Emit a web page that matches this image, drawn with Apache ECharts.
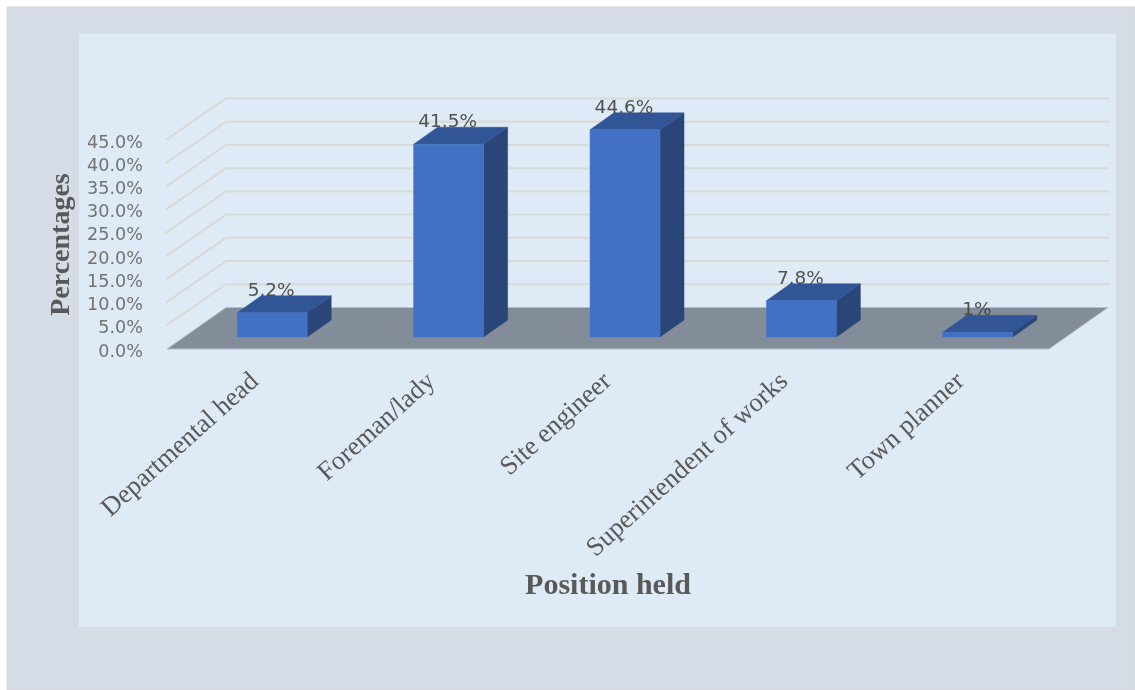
<!DOCTYPE html>
<html>
<head>
<meta charset="utf-8">
<style>html,body{margin:0;padding:0;background:#fff}#chart{width:1135px;height:690px}</style>
<script src="https://cdn.jsdelivr.net/npm/echarts@6/dist/echarts.min.js"></script>
</head>
<body>
<div id="chart"></div>
<script>
const categories = ['Departmental head', 'Foreman/lady', 'Site engineer', 'Superintendent of works', 'Town planner'];
const percentages = [5.2, 41.5, 44.6, 7.8, 1];
const valueLabels = ['5.2%', '41.5%', '44.6%', '7.8%', '1%'];
const gridValues = [5, 10, 15, 20, 25, 30, 35, 40, 45];

// Oblique projection of the floor depth, in pixels
const DEPTH_X = 59, DEPTH_Y = -41.5;
const BAR_INSET_X = 17, BAR_INSET_Y = -12;
const BAR_DEPTH_X = 24, BAR_DEPTH_Y = -17;
const BAR_WIDTH = 70;

const chart = echarts.init(document.getElementById('chart'), null, {renderer: 'canvas'});

function renderWallLine(params, api) {
  const p = api.coord([0, api.value(0)]);
  const cs = params.coordSys;
  const left = cs.x - 1, right = cs.x + cs.width + 1;
  return {
    type: 'polyline',
    shape: {points: [[left, p[1]], [left + DEPTH_X + 1, p[1] + DEPTH_Y], [right + DEPTH_X, p[1] + DEPTH_Y]]},
    style: {fill: 'none', stroke: '#dadad5', lineWidth: 2},
    silent: true
  };
}

function renderFloor(params, api) {
  const cs = params.coordSys;
  const y = api.coord([0, 0])[1];
  const left = cs.x, right = cs.x + cs.width;
  return {
    type: 'polygon',
    shape: {points: [[left, y], [right, y], [right + DEPTH_X, y + DEPTH_Y], [left + DEPTH_X, y + DEPTH_Y]]},
    style: {fill: '#838d99', stroke: '#b4bfcb', lineWidth: 1},
    silent: true
  };
}

function renderBar(params, api) {
  const i = api.value(0);
  const top = api.coord([i, api.value(1)]);
  const base = api.coord([i, 0]);
  const x0 = top[0] + BAR_INSET_X - BAR_WIDTH / 2, x1 = x0 + BAR_WIDTH;
  const y0 = base[1] + BAR_INSET_Y, y1 = top[1] + BAR_INSET_Y;
  const dx = BAR_DEPTH_X, dy = BAR_DEPTH_Y;
  return {
    type: 'group',
    children: [
      {type: 'polygon', shape: {points: [[x1, y0], [x1 + dx, y0 + dy], [x1 + dx, y1 + dy], [x1, y1]]},
        style: {fill: '#2a4679', stroke: '#2a4679', lineWidth: 0.5}},
      {type: 'polygon', shape: {points: [[x0, y1], [x1, y1], [x1 + dx, y1 + dy], [x0 + dx, y1 + dy]]},
        style: {fill: '#325595', stroke: '#325595', lineWidth: 0.5}},
      {type: 'rect', shape: {x: x0, y: y1, width: BAR_WIDTH, height: y0 - y1},
        style: {fill: '#4270c4', stroke: '#4a78c8', lineWidth: 0.5}},
      {type: 'text', x: x0 + BAR_WIDTH / 2 - 1, y: y1 - 22,
        style: {text: valueLabels[i], fill: '#404040', font: '18.5px "DejaVu Sans"', align: 'center', verticalAlign: 'middle', opacity: 0.9}}
    ]
  };
}

chart.setOption({
  animation: false,
  backgroundColor: '#ffffff',
  graphic: [
    {type: 'rect', z: -10, shape: {x: 7, y: 7, width: 1128, height: 683},
      style: {fill: '#d5dce6', stroke: '#d8d8d4', lineWidth: 1}},
    {type: 'rect', z: -9, shape: {x: 79, y: 34, width: 1037, height: 593},
      style: {fill: '#deeaf6'}}
  ],
  grid: {left: 167, top: 140, width: 882, height: 209, containLabel: false},
  xAxis: {
    type: 'category',
    data: categories,
    name: 'Position held',
    nameLocation: 'middle',
    nameGap: 222,
    nameTextStyle: {fontFamily: 'Liberation Serif', fontWeight: 'bold', fontSize: 30, color: '#595959'},
    axisLine: {show: false},
    axisTick: {show: false},
    axisLabel: {rotate: 42, interval: 0, margin: 29, fontFamily: 'Liberation Serif', fontSize: 26.5, color: '#595959'}
  },
  yAxis: {
    type: 'value',
    min: 0,
    max: 45,
    interval: 5,
    name: 'Percentages',
    nameLocation: 'middle',
    nameGap: 90,
    nameTextStyle: {fontFamily: 'Liberation Serif', fontWeight: 'bold', fontSize: 28, color: '#595959'},
    axisLine: {show: false},
    axisTick: {show: false},
    splitLine: {show: false},
    axisLabel: {margin: 24, verticalAlign: 'top', padding: [-6, 0, 0, 0], fontFamily: 'DejaVu Sans', fontSize: 17.6, color: '#737373',
      formatter: v => v.toFixed(1) + '%'}
  },
  series: [
    {type: 'custom', z: 1, coordinateSystem: 'cartesian2d', renderItem: renderWallLine, silent: true,
      encode: {y: 0}, data: gridValues.map(v => [v])},
    {type: 'custom', z: 2, coordinateSystem: 'cartesian2d', renderItem: renderFloor, silent: true,
      encode: {y: 0}, data: [[0]]},
    {type: 'custom', z: 3, coordinateSystem: 'cartesian2d', renderItem: renderBar, silent: true,
      encode: {x: 0, y: 1}, data: percentages.map((v, i) => [i, v])}
  ]
});
</script>
</body>
</html>
